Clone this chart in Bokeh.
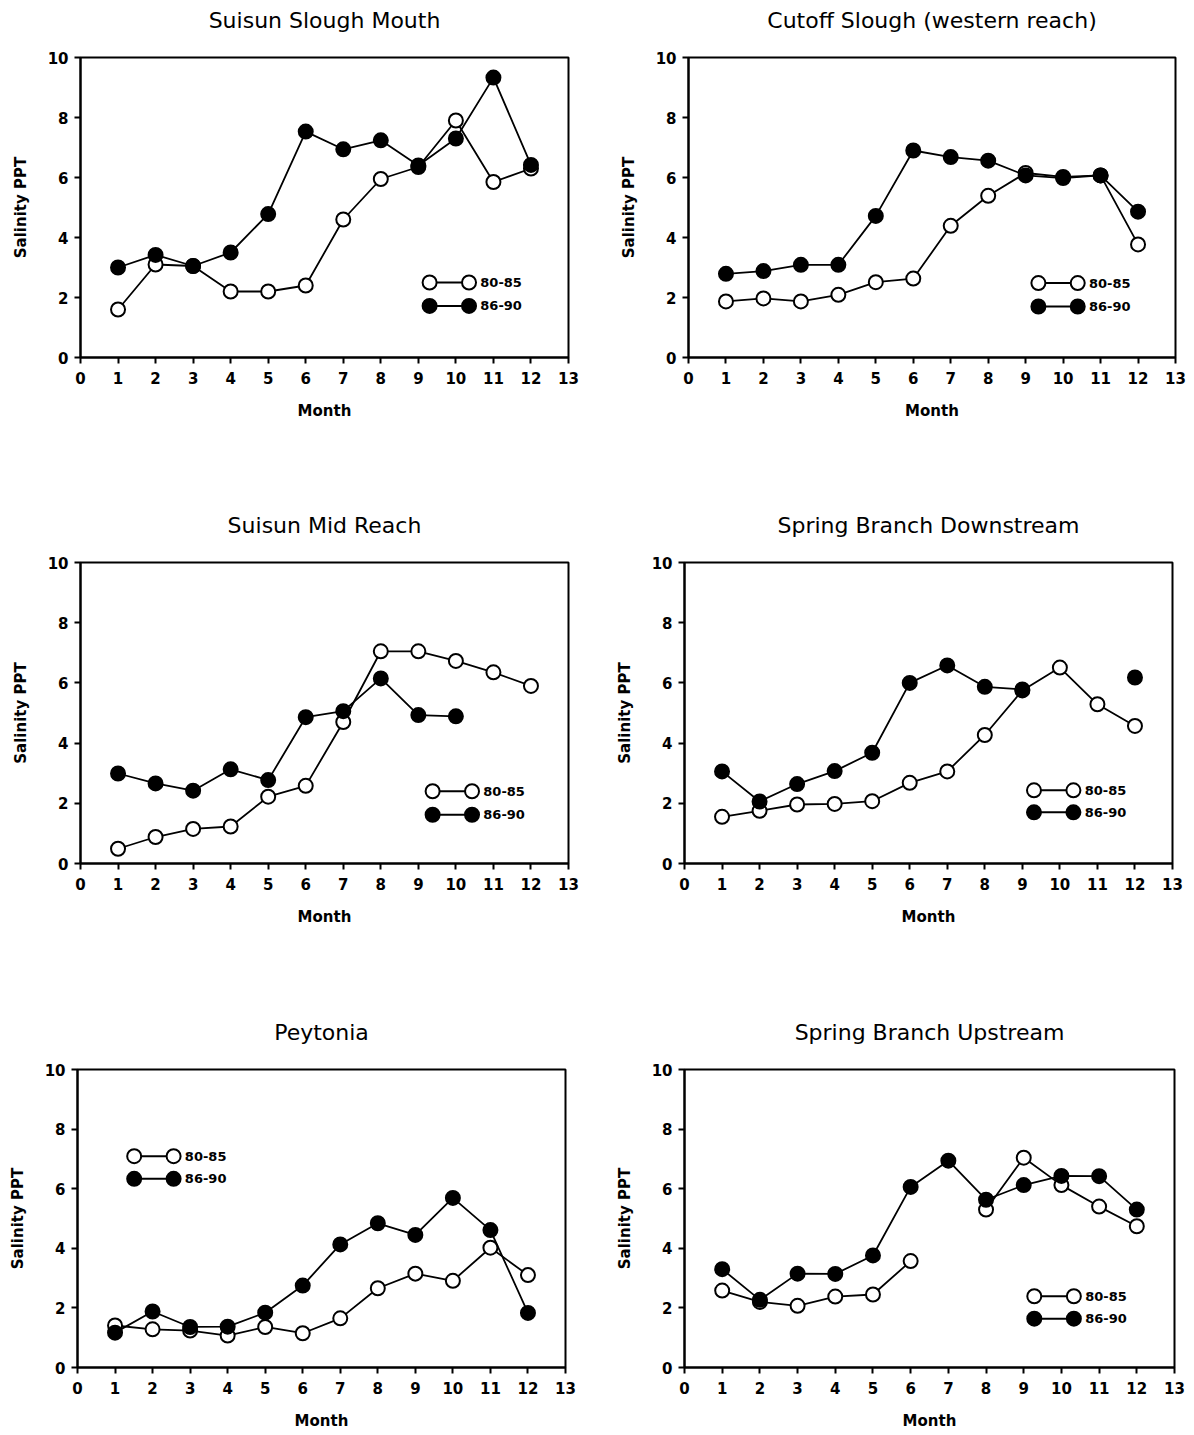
from bokeh.plotting import figure
from bokeh.layouts import column, row
from bokeh.models import Range1d, FixedTicker, Title
from bokeh.embed import file_html
from bokeh.resources import INLINE
from bokeh.core.properties import value

nan = float("nan")

# ---------------- data ----------------
MONTHS = [1, 2, 3, 4, 5, 6, 7, 8, 9, 10, 11, 12]
X_TICKS = list(range(0, 14))
Y_TICKS = [0, 2, 4, 6, 8, 10]
SERIES_LABELS = ["80-85", "86-90"]

TITLES = [
    "Suisun Slough Mouth",
    "Cutoff Slough (western reach)",
    "Suisun Mid Reach",
    "Spring Branch Downstream",
    "Peytonia",
    "Spring Branch Upstream",
]

suisun_mouth_80_85 = [1.6, 3.1, 3.05, 2.2, 2.2, 2.4, 4.6, 5.95, 6.35, 7.9, 5.85, 6.3]
suisun_mouth_86_90 = [3.0, 3.42, 3.05, 3.5, 4.78, 7.53, 6.94, 7.24, 6.4, 7.3, 9.33, 6.42]

cutoff_80_85 = [1.87, 1.97, 1.87, 2.09, 2.51, 2.63, 4.39, 5.39, 6.15, 6.02, 6.07, 3.77]
cutoff_86_90 = [2.79, 2.88, 3.09, 3.09, 4.72, 6.9, 6.68, 6.56, 6.07, 5.98, 6.07, 4.86]

mid_reach_80_85 = [0.49, 0.88, 1.15, 1.23, 2.22, 2.58, 4.7, 7.05, 7.05, 6.73, 6.35, 5.9]
mid_reach_86_90 = [2.99, 2.66, 2.42, 3.13, 2.77, 4.86, 5.06, 6.15, 4.93, 4.89, nan, nan]

spring_down_80_85 = [1.55, 1.75, 1.96, 1.98, 2.07, 2.68, 3.06, 4.27, 5.75, 6.51, 5.29, 4.57]
spring_down_86_90 = [3.06, 2.06, 2.64, 3.07, 3.68, 6.0, 6.58, 5.87, 5.78, nan, nan, 6.18]

peytonia_80_85 = [1.41, 1.28, 1.24, 1.07, 1.36, 1.15, 1.65, 2.66, 3.15, 2.91, 4.02, 3.1]
peytonia_86_90 = [1.17, 1.88, 1.36, 1.37, 1.84, 2.75, 4.13, 4.84, 4.45, 5.69, 4.61, 1.83]

spring_up_80_85 = [2.58, 2.2, 2.07, 2.38, 2.45, 3.57, nan, 5.3, 7.04, 6.12, 5.4, 4.74]
spring_up_86_90 = [3.3, 2.27, 3.15, 3.14, 3.76, 6.06, 6.94, 5.63, 6.12, 6.43, 6.42, 5.3]

OPEN_SERIES = [suisun_mouth_80_85, cutoff_80_85, mid_reach_80_85,
               spring_down_80_85, peytonia_80_85, spring_up_80_85]
FILLED_SERIES = [suisun_mouth_86_90, cutoff_86_90, mid_reach_86_90,
                 spring_down_86_90, peytonia_86_90, spring_up_86_90]

# ---------------- layout (sizes / positions, not data) ----------------
# width, height, border_left, border_top, frame_w, frame_h
PANEL_BOX = [
    (604, 507, 80, 54, 488, 303),
    (590, 507, 84, 57, 487, 301),
    (604, 505, 80, 53, 488, 303),
    (590, 505, 80, 55, 488, 304),
    (604, 422, 77, 53, 488, 302),
    (590, 422, 80, 57, 490, 302),
]
# legend anchor (first circle x, first-row y, second-row y) in data units
LEGEND_ANCHOR = [
    (9.3, 2.5, 1.72),
    (9.34, 2.48, 1.70),
    (9.38, 2.40, 1.62),
    (9.31, 2.43, 1.70),
    (1.51, 7.09, 6.33),
    (9.28, 2.39, 1.64),
]
TITLE_SPACER = 22

FONT = "DejaVu Sans"


def make_panel(i):
    W, H, bl, bt, fw, fh = PANEL_BOX[i]
    br = W - bl - fw
    bb = H - bt - fh
    p = figure(width=W, height=H,
               x_range=Range1d(0, 13), y_range=Range1d(0, 10),
               output_backend="svg", toolbar_location=None,
               min_border_left=bl, min_border_right=br,
               min_border_top=bt, min_border_bottom=bb)
    # blank spacer next to the frame, then the real title above it
    p.add_layout(Title(text=" ", text_font_size="1px", standoff=TITLE_SPACER), "above")
    p.add_layout(Title(text=TITLES[i], align="center", standoff=0,
                       text_font=FONT, text_font_size="22px",
                       text_font_style="normal", text_color="black"), "above")
    p.background_fill_color = "white"
    p.border_fill_color = "white"
    p.outline_line_color = "black"
    p.outline_line_width = 2
    p.outline_line_alpha = 1.0
    p.grid.visible = False

    p.xaxis.ticker = FixedTicker(ticks=X_TICKS)
    p.yaxis.ticker = FixedTicker(ticks=Y_TICKS)
    for ax in (p.xaxis[0], p.yaxis[0]):
        ax.minor_tick_line_color = None
        ax.major_tick_in = 0
        ax.major_tick_out = 6
        ax.major_tick_line_width = 2
        ax.major_tick_line_color = "black"
        ax.axis_line_width = 2
        ax.axis_line_color = "black"
        ax.major_label_text_font = FONT
        ax.major_label_text_font_size = "15px"
        ax.major_label_text_font_style = "bold"
        ax.major_label_text_color = "black"
        ax.axis_label_text_font = FONT
        ax.axis_label_text_font_size = "15px"
        ax.axis_label_text_font_style = "bold"
        ax.axis_label_text_color = "black"
    p.xaxis.axis_label = "Month"
    p.yaxis.axis_label = "Salinity PPT"
    p.xaxis.major_label_standoff = 8
    p.xaxis.axis_label_standoff = 15
    p.yaxis.major_label_standoff = 6
    p.yaxis.axis_label_standoff = 15

    op = OPEN_SERIES[i]
    fl = FILLED_SERIES[i]
    p.line(MONTHS, op, line_color="black", line_width=1.8)
    p.line(MONTHS, fl, line_color="black", line_width=1.8)
    p.scatter(MONTHS, op, size=14, fill_color="white", line_color="black", line_width=2)
    p.scatter(MONTHS, fl, size=14, fill_color="black", line_color="black", line_width=2)

    # legend
    lx, ly1, ly2 = LEGEND_ANCHOR[i]
    gap = 1.05
    for yy, fill, lab in ((ly1, "white", SERIES_LABELS[0]), (ly2, "black", SERIES_LABELS[1])):
        p.line([lx, lx + gap], [yy, yy], line_color="black", line_width=2)
        p.scatter([lx, lx + gap], [yy, yy], size=14, fill_color=fill,
                  line_color="black", line_width=2)
        p.text([lx + gap + 0.3], [yy], text=[lab], text_align="left",
               text_baseline="middle", text_font=value(FONT),
               text_font_size="13px", text_font_style="bold", text_color="black")
    return p


panels = [make_panel(i) for i in range(6)]
layout = column(row(panels[0], panels[1]),
                row(panels[2], panels[3]),
                row(panels[4], panels[5]))

open("out.html", "w").write(file_html(layout, INLINE))
